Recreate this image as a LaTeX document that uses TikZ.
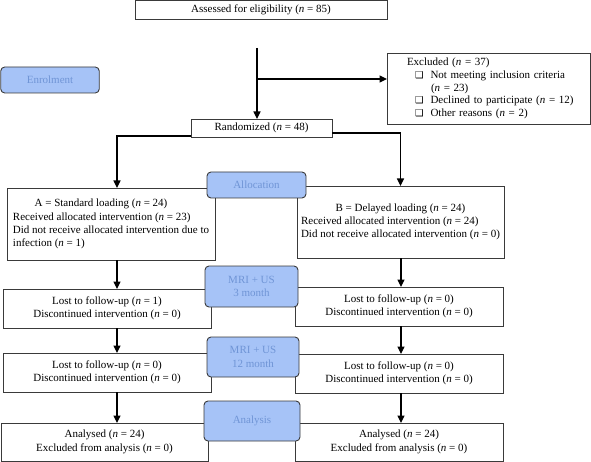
\documentclass[tikz,border=0pt]{standalone}
\usepackage{fontspec}
\setmainfont{Liberation Serif}
\newfontfamily\symfont{DejaVu Sans}
\usetikzlibrary{arrows.meta,calc}
\definecolor{bfill}{HTML}{A6C3F7}
\definecolor{btext}{HTML}{7095D6}
\definecolor{bord}{HTML}{3A3A3A}
\newcommand\bul{{\symfont\fontsize{9.5}{9.5}\selectfont ❑}}
\newcommand\nn{\textit{n}}
\tikzset{
  wbox/.style={draw=bord, line width=0.9pt, fill=white, inner sep=0pt, outer sep=0pt,
    font=\fontsize{11}{13.3}\selectfont, align=center},
  bbox/.style={draw=bord, line width=0.9pt, fill=bfill, rounded corners=4pt, inner sep=0pt,
    outer sep=0pt, text=btext, font=\fontsize{11}{13.3}\selectfont, align=center},
  arr/.style={line width=1.1pt, -{Triangle[length=7.5pt,width=7pt]}},
}
\begin{document}
\begin{tikzpicture}[x=1pt,y=-1pt]
\useasboundingbox (0,0) rectangle (591,462);
% white boxes
\node[wbox, minimum width=252pt, minimum height=19pt] (ass) at (261,10) {Assessed for eligibility (\nn{} = 85)};
\node[wbox, align=left, text width=183pt, inner xsep=10pt, minimum height=71pt,
  font=\fontsize{11}{12.7}\selectfont] (exc) at (488.5,88.5)
  {\hspace*{10pt}Excluded (\nn{} = 37)\\
   \hspace*{18pt}\bul\hspace{7pt}Not meeting inclusion criteria\\
   \hspace*{34pt}(\nn{} = 23)\\
   \hspace*{18pt}\bul\hspace{7pt}Declined to participate (\nn{} = 12)\\
   \hspace*{18pt}\bul\hspace{7pt}Other reasons (\nn{} = 2)};
\node[wbox, minimum width=141pt, minimum height=18pt] (rand) at (261.5,128) {Randomized (\nn{} = 48)};
\node[wbox, minimum width=208pt, minimum height=72pt] (A) at (111,224)
  {\begin{tabular}{@{}l@{}}\multicolumn{1}{@{}c@{}}{A = Standard loading (\nn{} = 24)\hspace*{20pt}}\\
   Received allocated intervention (\nn{} = 23)\\
   Did not receive allocated intervention due to\\
   infection (\nn{} = 1)\end{tabular}};
\node[wbox, minimum width=207pt, minimum height=72pt] (B) at (400.5,222)
  {\begin{tabular}{@{}l@{}}\multicolumn{1}{@{}c@{}}{B = Delayed loading (\nn{} = 24)}\\
   Received allocated intervention (\nn{} = 24)\\
   Did not receive allocated intervention (\nn{} = 0)\end{tabular}};
\node[wbox, minimum width=208pt, minimum height=39pt] (L1A) at (107,308.5)
  {Lost to follow-up (\nn{} = 1)\\ Discontinued intervention (\nn{} = 0)};
\node[wbox, minimum width=208pt, minimum height=39pt] (L1B) at (399,306.5)
  {Lost to follow-up (\nn{} = 0)\\ Discontinued intervention (\nn{} = 0)};
\node[wbox, minimum width=208pt, minimum height=39pt] (L2A) at (107,372.5)
  {Lost to follow-up (\nn{} = 0)\\ Discontinued intervention (\nn{} = 0)};
\node[wbox, minimum width=208pt, minimum height=39pt] (L2B) at (399,373.5)
  {Lost to follow-up (\nn{} = 0)\\ Discontinued intervention (\nn{} = 0)};
\node[wbox, minimum width=207pt, minimum height=38pt] (AnA) at (104.5,442)
  {Analysed (\nn{} = 24)\\ Excluded from analysis (\nn{} = 0)};
\node[wbox, minimum width=208pt, minimum height=38pt] (AnB) at (399,442)
  {Analysed (\nn{} = 24)\\ Excluded from analysis (\nn{} = 0)};
% blue stage boxes
\node[bbox, minimum width=98.5pt, minimum height=26pt] (enr) at (50,80) {Enrolment};
\node[bbox, minimum width=99pt, minimum height=26pt] (alloc) at (256.5,185) {Allocation};
\node[bbox, minimum width=93pt, minimum height=41pt] (mri1) at (251.5,286.5) {MRI + US\\ 3 month};
\node[bbox, minimum width=92pt, minimum height=40pt] (mri2) at (253,357) {MRI + US\\ 12 month};
\node[bbox, minimum width=96pt, minimum height=40pt] (ana) at (252,421) {Analysis};
% connector coordinates
\coordinate (top) at (257,48);
\coordinate (br) at (257,79);
\coordinate (xL) at (117,0);
\coordinate (xR) at (401,0);
% connectors
\draw[arr] (top) -- (top |- rand.north);
\draw[arr] (br) -- (br -| exc.west);
\draw[arr] ([yshift=1pt]rand.south west) -| (xL |- A.north);
\draw[arr] ([yshift=4pt]rand.south east) -| (B.north);
\draw[arr] (xL |- A.south) -- (xL |- L1A.north);
\draw[arr] (xL |- L1A.south) -- (xL |- L2A.north);
\draw[arr] (xL |- L2A.south) -- (xL |- AnA.north);
\draw[arr] (xR |- B.south) -- (xR |- L1B.north);
\draw[arr] (xR |- L1B.south) -- (xR |- L2B.north);
\draw[arr] (xR |- L2B.south) -- (xR |- AnB.north);
\end{tikzpicture}
\end{document}
